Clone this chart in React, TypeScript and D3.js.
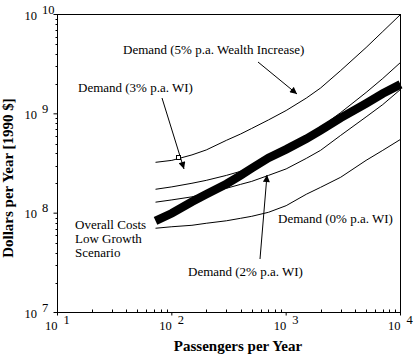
import React from "react";
import * as d3 from "d3";

const passengers = [72, 100, 150, 200, 300, 400, 500, 700, 1000, 1500, 2000, 3000, 5000, 7000, 10000];
// values in units of 1e8 dollars
const demand5 = [3.25, 3.4, 3.86, 4.33, 5.41, 6.27, 7.13, 8.68, 10.8, 14.4, 18.2, 27.3, 46.5, 67.4, 100];
const demand3 = [1.74, 1.84, 2.0, 2.14, 2.4, 2.64, 2.86, 3.82, 4.7, 6.0, 7.31, 10.3, 16.4, 22.7, 32.9];
const demand2 = [1.29, 1.36, 1.46, 1.58, 1.78, 1.95, 2.09, 2.4, 2.79, 3.56, 4.29, 6.07, 9.31, 12.4, 17.6];
const demand0 = [0.705, 0.73, 0.755, 0.791, 0.838, 0.888, 0.93, 1.02, 1.19, 1.55, 1.82, 2.3, 3.4, 4.29, 5.53];
const overallCosts = [0.838, 0.997, 1.3, 1.55, 1.97, 2.4, 2.83, 3.6, 4.39, 5.6, 6.81, 9.1, 12.7, 16.0, 19.8];

const xTickExps = [1, 2, 3, 4];
const yTickExps = [7, 8, 9, 10];
const xTitle = "Passengers per Year";
const yTitle = "Dollars per Year [1990 $]";

const FONT = "'Liberation Serif', 'Times New Roman', serif";

export default function App() {
  const x = d3.scaleLog().domain([10, 1e4]).range([57.5, 400.5]);
  const y = d3.scaleLog().domain([1e7, 1e10]).range([312.5, 14.5]);
  const line = d3
    .line<[number, number]>()
    .x((d) => x(d[0]))
    .y((d) => y(d[1] * 1e8));
  const mk = (vals: number[]) => passengers.map((p, i) => [p, vals[i]] as [number, number]);

  const minorX: number[] = [];
  for (let e = 1; e < 4; e++) for (let m = 2; m <= 9; m++) minorX.push(m * Math.pow(10, e));
  const minorY: number[] = [];
  for (let e = 7; e < 10; e++) for (let m = 2; m <= 9; m++) minorY.push(m * Math.pow(10, e));

  const [x0, x1] = x.range();
  const [y0, y1] = y.range();

  return (
    <svg
      width={415}
      height={357}
      style={{ position: "absolute", left: 0, top: 0, background: "#fff" }}
      fontFamily={FONT}
    >
      <defs>
        <marker id="ah" viewBox="0 0 10 10" refX="10" refY="5" markerWidth="9" markerHeight="7" orient="auto" markerUnits="userSpaceOnUse">
          <path d="M0,0 L10,5 L0,10 z" fill="#000" />
        </marker>
      </defs>
      <rect x={0} y={0} width={415} height={357} fill="#fff" />
      {/* frame */}
      <rect x={x0} y={y1} width={x1 - x0} height={y0 - y1} fill="none" stroke="#000" strokeWidth={1} />

      {/* x ticks */}
      {minorX.map((v) => (
        <line key={"mx" + v} x1={Math.round(x(v)) + 0.5} x2={Math.round(x(v)) + 0.5} y1={y0} y2={y0 - 3} stroke="#000" />
      ))}
      {xTickExps.map((e) => (
        <g key={"xt" + e}>
          <line x1={x(Math.pow(10, e))} x2={x(Math.pow(10, e))} y1={y0} y2={y0 + 3} stroke="#000" />
          <text x={x(Math.pow(10, e))} y={330} textAnchor="end" fontSize={12.5}>10</text>
          <text x={x(Math.pow(10, e)) + 6} y={324} fontSize={12.5}>{e}</text>
        </g>
      ))}

      {/* y ticks */}
      {minorY.map((v) => (
        <line key={"my" + v} x1={x0} x2={x0 - 2} y1={Math.round(y(v)) + 0.5} y2={Math.round(y(v)) + 0.5} stroke="#000" />
      ))}
      {yTickExps.map((e) => (
        <g key={"yt" + e}>
          <line x1={x0} x2={x0 - 4} y1={y(Math.pow(10, e))} y2={y(Math.pow(10, e))} stroke="#000" />
          <text x={37} y={y(Math.pow(10, e)) + 5} textAnchor="end" fontSize={12.5}>10</text>
          <text x={42} y={y(Math.pow(10, e)) - 1} fontSize={12.5}>{e}</text>
        </g>
      ))}

      {/* curves */}
      <path d={line(mk(demand5)) || ""} fill="none" stroke="#000" strokeWidth={1} />
      <path d={line(mk(demand3)) || ""} fill="none" stroke="#000" strokeWidth={1} />
      <path d={line(mk(demand2)) || ""} fill="none" stroke="#000" strokeWidth={1} />
      <path d={line(mk(demand0)) || ""} fill="none" stroke="#000" strokeWidth={1} />
      <path d={line(mk(overallCosts)) || ""} fill="none" stroke="#000" strokeWidth={8.5} />

      {/* annotations */}
      <text x={123} y={54} fontSize={13}>Demand (5% p.a. Wealth Increase)</text>
      <line x1={258} y1={62} x2={297} y2={94} stroke="#000" markerEnd="url(#ah)" />
      <text x={78} y={92} fontSize={13}>Demand (3% p.a. WI)</text>
      <line x1={162} y1={98} x2={184} y2={169} stroke="#000" markerEnd="url(#ah)" />
      <rect x={176.5} y={155.5} width={4} height={4} fill="#fff" stroke="#000" />
      <text x={75} y={229} fontSize={13}>Overall Costs</text>
      <text x={75} y={243} fontSize={13}>Low Growth</text>
      <text x={75} y={257} fontSize={13}>Scenario</text>
      <text x={278} y={223} fontSize={13}>Demand (0% p.a. WI)</text>
      <text x={188} y={276} fontSize={13}>Demand (2% p.a. WI)</text>
      <line x1={260} y1={259} x2={267} y2={175} stroke="#000" markerEnd="url(#ah)" />

      {/* axis titles */}
      <text x={238} y={351} textAnchor="middle" fontSize={15} fontWeight="bold">{xTitle}</text>
      <text transform="translate(13,178) rotate(-90)" textAnchor="middle" fontSize={15} fontWeight="bold">{yTitle}</text>
    </svg>
  );
}
